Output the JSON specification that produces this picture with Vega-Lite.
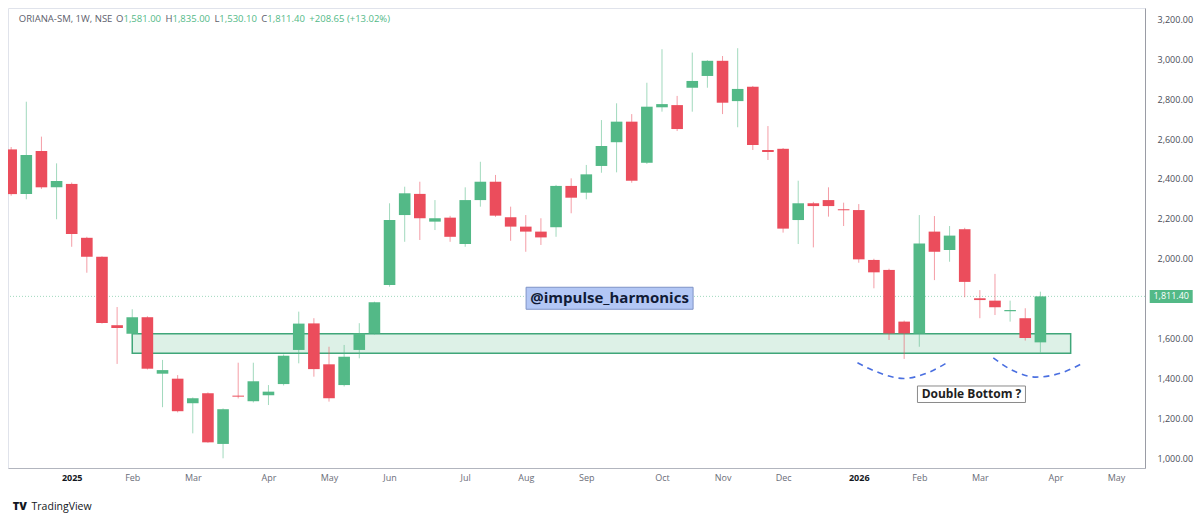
{
  "$schema": "https://vega.github.io/schema/vega-lite/v6.json",
  "width": 1137,
  "height": 460,
  "autosize": {"type": "none"},
  "padding": {"left": 8, "top": 8, "right": 55, "bottom": 50},
  "background": "#ffffff",
  "config": {"view": {"stroke": "#e0e3eb"}, "font": "Open Sans"},
  "datasets": {
    "candles": [
      {"date":"2024-12-09","open":2548,"high":2560,"low":2316,"close":2324},
      {"date":"2024-12-16","open":2324,"high":2787,"low":2298,"close":2520},
      {"date":"2024-12-23","open":2540,"high":2612,"low":2350,"close":2358},
      {"date":"2024-12-30","open":2358,"high":2478,"low":2198,"close":2390},
      {"date":"2025-01-06","open":2375,"high":2382,"low":2060,"close":2124},
      {"date":"2025-01-13","open":2105,"high":2110,"low":1930,"close":2010},
      {"date":"2025-01-20","open":2010,"high":2012,"low":1675,"close":1678},
      {"date":"2025-01-27","open":1667,"high":1758,"low":1473,"close":1653},
      {"date":"2025-02-03","open":1624,"high":1747,"low":1600,"close":1707},
      {"date":"2025-02-10","open":1707,"high":1712,"low":1445,"close":1449},
      {"date":"2025-02-17","open":1424,"high":1493,"low":1256,"close":1442},
      {"date":"2025-02-24","open":1399,"high":1417,"low":1230,"close":1236},
      {"date":"2025-03-03","open":1276,"high":1305,"low":1125,"close":1301},
      {"date":"2025-03-10","open":1326,"high":1330,"low":1078,"close":1080},
      {"date":"2025-03-17","open":1072,"high":1250,"low":1000,"close":1246},
      {"date":"2025-03-24","open":1314,"high":1479,"low":1300,"close":1309},
      {"date":"2025-03-31","open":1286,"high":1479,"low":1280,"close":1386},
      {"date":"2025-04-07","open":1316,"high":1367,"low":1267,"close":1334},
      {"date":"2025-04-14","open":1372,"high":1520,"low":1365,"close":1514},
      {"date":"2025-04-21","open":1543,"high":1735,"low":1476,"close":1675},
      {"date":"2025-04-28","open":1676,"high":1702,"low":1409,"close":1447},
      {"date":"2025-05-05","open":1471,"high":1559,"low":1284,"close":1301},
      {"date":"2025-05-12","open":1367,"high":1568,"low":1360,"close":1509},
      {"date":"2025-05-19","open":1543,"high":1677,"low":1501,"close":1626},
      {"date":"2025-05-26","open":1626,"high":1785,"low":1620,"close":1782},
      {"date":"2025-06-02","open":1868,"high":2278,"low":1860,"close":2194},
      {"date":"2025-06-09","open":2219,"high":2361,"low":2085,"close":2328},
      {"date":"2025-06-16","open":2325,"high":2386,"low":2094,"close":2203},
      {"date":"2025-06-23","open":2186,"high":2294,"low":2144,"close":2203},
      {"date":"2025-06-30","open":2206,"high":2215,"low":2085,"close":2110},
      {"date":"2025-07-07","open":2074,"high":2358,"low":2060,"close":2294},
      {"date":"2025-07-14","open":2294,"high":2486,"low":2261,"close":2386},
      {"date":"2025-07-21","open":2386,"high":2420,"low":2210,"close":2216},
      {"date":"2025-07-28","open":2208,"high":2261,"low":2090,"close":2161},
      {"date":"2025-08-04","open":2161,"high":2219,"low":2035,"close":2136},
      {"date":"2025-08-11","open":2136,"high":2203,"low":2069,"close":2107},
      {"date":"2025-08-18","open":2158,"high":2370,"low":2110,"close":2365},
      {"date":"2025-08-25","open":2365,"high":2403,"low":2228,"close":2306},
      {"date":"2025-09-01","open":2331,"high":2470,"low":2298,"close":2423},
      {"date":"2025-09-08","open":2465,"high":2695,"low":2431,"close":2565},
      {"date":"2025-09-15","open":2584,"high":2779,"low":2433,"close":2687},
      {"date":"2025-09-22","open":2687,"high":2725,"low":2381,"close":2391},
      {"date":"2025-09-29","open":2481,"high":2882,"low":2475,"close":2762},
      {"date":"2025-10-06","open":2759,"high":3050,"low":2737,"close":2775},
      {"date":"2025-10-13","open":2770,"high":2816,"low":2640,"close":2650},
      {"date":"2025-10-20","open":2857,"high":3033,"low":2737,"close":2891},
      {"date":"2025-10-27","open":2916,"high":2995,"low":2857,"close":2992},
      {"date":"2025-11-03","open":2992,"high":3016,"low":2725,"close":2782},
      {"date":"2025-11-10","open":2790,"high":3055,"low":2659,"close":2851},
      {"date":"2025-11-17","open":2862,"high":2866,"low":2545,"close":2570},
      {"date":"2025-11-24","open":2545,"high":2665,"low":2495,"close":2535},
      {"date":"2025-12-01","open":2551,"high":2555,"low":2131,"close":2151},
      {"date":"2025-12-08","open":2194,"high":2391,"low":2074,"close":2278},
      {"date":"2025-12-15","open":2278,"high":2285,"low":2057,"close":2264},
      {"date":"2025-12-22","open":2294,"high":2358,"low":2211,"close":2264},
      {"date":"2025-12-29","open":2248,"high":2281,"low":2164,"close":2243},
      {"date":"2026-01-05","open":2244,"high":2274,"low":1980,"close":1997},
      {"date":"2026-01-12","open":1994,"high":2000,"low":1852,"close":1932},
      {"date":"2026-01-19","open":1944,"high":1950,"low":1593,"close":1626},
      {"date":"2026-01-26","open":1685,"high":1690,"low":1498,"close":1626},
      {"date":"2026-02-02","open":1626,"high":2219,"low":1559,"close":2077},
      {"date":"2026-02-09","open":2136,"high":2214,"low":1893,"close":2035},
      {"date":"2026-02-16","open":2044,"high":2164,"low":1985,"close":2116},
      {"date":"2026-02-23","open":2148,"high":2155,"low":1807,"close":1884},
      {"date":"2026-03-02","open":1802,"high":1843,"low":1702,"close":1793},
      {"date":"2026-03-09","open":1790,"high":1924,"low":1718,"close":1757},
      {"date":"2026-03-16","open":1737,"high":1790,"low":1685,"close":1743},
      {"date":"2026-03-23","open":1702,"high":1752,"low":1590,"close":1602.75},
      {"date":"2026-03-30","open":1581,"high":1835,"low":1530.1,"close":1811.4}
    ],
    "zone": [{"start":"2025-02-03","end":"2026-04-13","top":1624,"bottom":1526}],
    "last": [{"price":1811.4}],
    "arcs": [
      {"arc":1,"date":"2026-01-04T09:36:00Z","price":1479},
      {"arc":1,"date":"2026-01-13T14:24:00Z","price":1432},
      {"arc":1,"date":"2026-01-25T19:12:00Z","price":1400},
      {"arc":1,"date":"2026-02-05T12:00:00Z","price":1427},
      {"arc":1,"date":"2026-02-14T16:48:00Z","price":1478},
      {"arc":2,"date":"2026-03-08T05:00:00Z","price":1503},
      {"arc":2,"date":"2026-03-17T19:00:00Z","price":1437},
      {"arc":2,"date":"2026-03-27T22:00:00Z","price":1407},
      {"arc":2,"date":"2026-04-08T10:00:00Z","price":1427},
      {"arc":2,"date":"2026-04-18T22:00:00Z","price":1479}
    ]
  },
  "layer": [
    {
      "data": {"name": "zone"},
      "mark": {"type": "rect", "fill": "#53b987", "fillOpacity": 0.2, "stroke": "#3fa679", "strokeWidth": 1.5},
      "encoding": {
        "x": {
          "field": "start", "type": "temporal",
          "scale": {"type": "utc", "domain": [
            {"year": 2024, "month": 12, "date": 9, "hours": 20, "minutes": 24, "utc": true},
            {"year": 2026, "month": 5, "date": 15, "hours": 1, "minutes": 40, "utc": true}
          ]},
          "axis": {
            "title": null,
            "values": [
              {"year": 2025, "month": 1, "date": 6, "utc": true},
              {"year": 2025, "month": 2, "date": 3, "utc": true},
              {"year": 2025, "month": 3, "date": 3, "utc": true},
              {"year": 2025, "month": 4, "date": 7, "utc": true},
              {"year": 2025, "month": 5, "date": 5, "utc": true},
              {"year": 2025, "month": 6, "date": 2, "utc": true},
              {"year": 2025, "month": 7, "date": 7, "utc": true},
              {"year": 2025, "month": 8, "date": 4, "utc": true},
              {"year": 2025, "month": 9, "date": 1, "utc": true},
              {"year": 2025, "month": 10, "date": 6, "utc": true},
              {"year": 2025, "month": 11, "date": 3, "utc": true},
              {"year": 2025, "month": 12, "date": 1, "utc": true},
              {"year": 2026, "month": 1, "date": 5, "utc": true},
              {"year": 2026, "month": 2, "date": 2, "utc": true},
              {"year": 2026, "month": 3, "date": 2, "utc": true},
              {"year": 2026, "month": 4, "date": 6, "utc": true},
              {"year": 2026, "month": 5, "date": 4, "utc": true}
            ],
            "labelExpr": "utcmonth(datum.value) === 0 ? utcFormat(datum.value, '%Y') : utcFormat(datum.value, '%b')",
            "ticks": false,
            "grid": false,
            "domainColor": "#b2b5be",
            "labelFont": "Open Sans",
            "labelFontSize": 9,
            "labelPadding": 5,
            "labelAngle": 0,
            "labelOverlap": false,
            "labelFlush": false,
            "labelColor": {"condition": {"test": "utcmonth(datum.value) === 0", "value": "#131722"}, "value": "#6a6d78"},
            "labelFontWeight": {"condition": {"test": "utcmonth(datum.value) === 0", "value": "bold"}, "value": "normal"}
          }
        },
        "x2": {"field": "end"},
        "y": {
          "field": "top", "type": "quantitative",
          "scale": {"domain": [951.4, 3256.6], "nice": false, "zero": false},
          "axis": {
            "title": null,
            "orient": "right",
            "values": [1000, 1200, 1400, 1600, 2000, 2200, 2400, 2600, 2800, 3000, 3200],
            "format": ",.2f",
            "ticks": false,
            "tickSize": 0,
            "grid": false,
            "domainColor": "#9a9ca5",
            "labelFont": "Open Sans",
            "labelFontSize": 9,
            "labelColor": "#4a4d57",
            "labelPadding": 12
          }
        },
        "y2": {"field": "bottom"}
      }
    },
    {
      "data": {"name": "last"},
      "mark": {"type": "rule", "color": "#53b987", "strokeDash": [1, 2], "opacity": 0.55, "strokeWidth": 1},
      "encoding": {"y": {"field": "price", "type": "quantitative"}}
    },
    {
      "data": {"name": "candles"},
      "mark": {"type": "rule", "strokeWidth": 1, "opacity": 0.55, "clip": true},
      "encoding": {
        "x": {"field": "date", "type": "temporal"},
        "y": {"field": "low", "type": "quantitative"},
        "y2": {"field": "high"},
        "color": {"condition": {"test": "datum.close >= datum.open", "value": "#53b987"}, "value": "#eb4d5c"}
      }
    },
    {
      "data": {"name": "candles"},
      "mark": {"type": "bar", "width": 11.6, "clip": true},
      "encoding": {
        "x": {"field": "date", "type": "temporal"},
        "y": {"field": "open", "type": "quantitative"},
        "y2": {"field": "close"},
        "color": {"condition": {"test": "datum.close >= datum.open", "value": "#53b987"}, "value": "#eb4d5c"}
      }
    },
    {
      "data": {"name": "arcs"},
      "mark": {"type": "line", "color": "#4a6fe0", "strokeDash": [6, 5], "strokeWidth": 1.6, "interpolate": "monotone"},
      "encoding": {
        "x": {"field": "date", "type": "temporal"},
        "y": {"field": "price", "type": "quantitative"},
        "detail": {"field": "arc"}
      }
    },
    {
      "data": {"values": [{"label": "@impulse_harmonics"}]},
      "encoding": {
        "x": {"datum": {"year": 2025, "month": 9, "date": 11, "hours": 18, "minutes": 15, "utc": true}, "type": "temporal"},
        "y": {"datum": 1802, "type": "quantitative"}
      },
      "layer": [
        {"mark": {"type": "rect", "width": 167, "height": 22, "fill": "#b3c7f5", "stroke": "#7f93c6", "strokeWidth": 1}},
        {"mark": {"type": "text", "fontSize": 15, "fontWeight": "bold", "color": "#101a36", "align": "center", "baseline": "middle", "font": "Open Sans"},
         "encoding": {"text": {"field": "label"}}}
      ]
    },
    {
      "data": {"values": [{"label": "Double Bottom ?"}]},
      "encoding": {
        "x": {"datum": {"year": 2026, "month": 2, "date": 26, "hours": 3, "utc": true}, "type": "temporal"},
        "y": {"datum": 1321, "type": "quantitative"}
      },
      "layer": [
        {"mark": {"type": "rect", "width": 108, "height": 16.5, "fill": "#ffffff", "stroke": "#8a8a8a", "strokeWidth": 1}},
        {"mark": {"type": "text", "fontSize": 12, "fontWeight": "bold", "color": "#1e1e1e", "align": "center", "baseline": "middle", "font": "Open Sans"},
         "encoding": {"text": {"field": "label"}}}
      ]
    },
    {
      "data": {"name": "last"},
      "encoding": {
        "x": {"datum": {"year": 2026, "month": 5, "date": 29, "hours": 12, "utc": true}, "type": "temporal"},
        "y": {"field": "price", "type": "quantitative"}
      },
      "layer": [
        {"mark": {"type": "rect", "width": 43, "height": 13, "fill": "#53b987"}},
        {"mark": {"type": "text", "fontSize": 9, "color": "#ffffff", "align": "center", "baseline": "middle", "font": "Open Sans"},
         "encoding": {"text": {"field": "price", "format": ",.2f"}}}
      ]
    },
    {
      "data": {"values": [{"ticker": "ORIANA-SM, 1W, NSE", "o": 1581, "h": 1835, "l": 1530.1, "c": 1811.4, "change": "+208.65 (+13.02%)"}]},
      "encoding": {"y": {"datum": 3200, "type": "quantitative"}},
      "layer": [
        {"mark": {"type": "text", "fontSize": 9.5, "color": "#5d606b", "align": "left", "baseline": "middle", "font": "Open Sans"},
         "encoding": {"x": {"datum": {"year": 2024, "month": 12, "date": 12, "hours": 12, "minutes": 43, "utc": true}, "type": "temporal"}, "text": {"field": "ticker"}}},
        {"mark": {"type": "text", "fontSize": 9.5, "color": "#5d606b", "align": "left", "baseline": "middle", "font": "Open Sans", "text": "O"},
         "encoding": {"x": {"datum": {"year": 2025, "month": 1, "date": 26, "hours": 13, "utc": true}, "type": "temporal"}}},
        {"mark": {"type": "text", "fontSize": 9.5, "color": "#53b987", "align": "left", "baseline": "middle", "font": "Open Sans"},
         "encoding": {"x": {"datum": {"year": 2025, "month": 1, "date": 29, "hours": 22, "minutes": 30, "utc": true}, "type": "temporal"}, "text": {"field": "o", "format": ",.2f"}}},
        {"mark": {"type": "text", "fontSize": 9.5, "color": "#5d606b", "align": "left", "baseline": "middle", "font": "Open Sans", "text": "H"},
         "encoding": {"x": {"datum": {"year": 2025, "month": 2, "date": 18, "hours": 9, "utc": true}, "type": "temporal"}}},
        {"mark": {"type": "text", "fontSize": 9.5, "color": "#53b987", "align": "left", "baseline": "middle", "font": "Open Sans"},
         "encoding": {"x": {"datum": {"year": 2025, "month": 2, "date": 21, "hours": 14, "minutes": 10, "utc": true}, "type": "temporal"}, "text": {"field": "h", "format": ",.2f"}}},
        {"mark": {"type": "text", "fontSize": 9.5, "color": "#5d606b", "align": "left", "baseline": "middle", "font": "Open Sans", "text": "L"},
         "encoding": {"x": {"datum": {"year": 2025, "month": 3, "date": 13, "hours": 0, "minutes": 40, "utc": true}, "type": "temporal"}}},
        {"mark": {"type": "text", "fontSize": 9.5, "color": "#53b987", "align": "left", "baseline": "middle", "font": "Open Sans"},
         "encoding": {"x": {"datum": {"year": 2025, "month": 3, "date": 15, "hours": 6, "minutes": 40, "utc": true}, "type": "temporal"}, "text": {"field": "l", "format": ",.2f"}}},
        {"mark": {"type": "text", "fontSize": 9.5, "color": "#5d606b", "align": "left", "baseline": "middle", "font": "Open Sans", "text": "C"},
         "encoding": {"x": {"datum": {"year": 2025, "month": 4, "date": 3, "hours": 17, "minutes": 15, "utc": true}, "type": "temporal"}}},
        {"mark": {"type": "text", "fontSize": 9.5, "color": "#53b987", "align": "left", "baseline": "middle", "font": "Open Sans"},
         "encoding": {"x": {"datum": {"year": 2025, "month": 4, "date": 6, "hours": 11, "minutes": 15, "utc": true}, "type": "temporal"}, "text": {"field": "c", "format": ",.2f"}}},
        {"mark": {"type": "text", "fontSize": 9.5, "color": "#53b987", "align": "left", "baseline": "middle", "font": "Open Sans"},
         "encoding": {"x": {"datum": {"year": 2025, "month": 4, "date": 25, "hours": 21, "minutes": 50, "utc": true}, "type": "temporal"}, "text": {"field": "change"}}}
      ]
    },
    {
      "data": {"values": [{"logo": "TV", "brand": "TradingView"}]},
      "encoding": {"y": {"datum": 756, "type": "quantitative"}},
      "layer": [
        {"mark": {"type": "text", "fontSize": 11, "fontWeight": 900, "color": "#131722", "align": "left", "baseline": "middle", "font": "Open Sans"},
         "encoding": {"x": {"datum": {"year": 2024, "month": 12, "date": 9, "hours": 17, "minutes": 15, "utc": true}, "type": "temporal"}, "text": {"field": "logo"}}},
        {"mark": {"type": "text", "fontSize": 10.5, "color": "#131722", "align": "left", "baseline": "middle", "font": "Open Sans"},
         "encoding": {"x": {"datum": {"year": 2024, "month": 12, "date": 18, "hours": 10, "minutes": 15, "utc": true}, "type": "temporal"}, "text": {"field": "brand"}}}
      ]
    }
  ]
}
